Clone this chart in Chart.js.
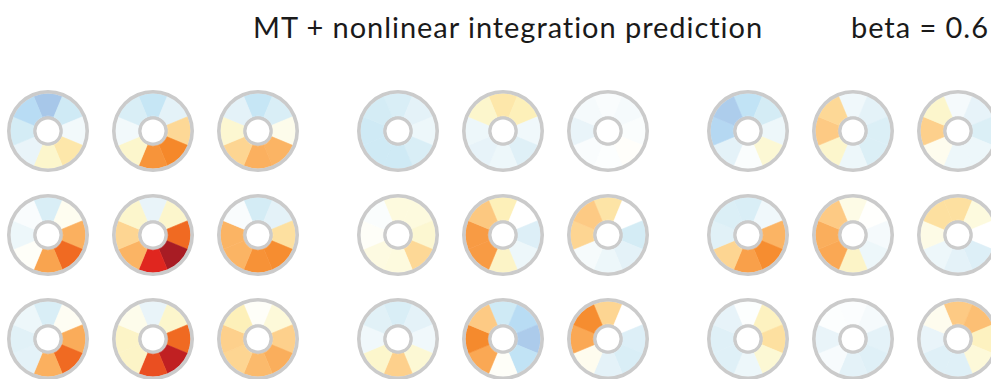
<!DOCTYPE html>
<html>
<head>
<meta charset="utf-8">
<script src="https://cdn.jsdelivr.net/npm/chart.js@4/dist/chart.umd.min.js"></script>
<style>
  html, body { margin: 0; padding: 0; background: #ffffff; }
  #stage { position: relative; width: 991px; height: 379px; overflow: hidden; }
  .ring { position: absolute; }
  .label { position: absolute; font-family: Lato, "Liberation Sans", sans-serif; font-size: 29px; letter-spacing: 0.95px; color: #1a1a1a; white-space: nowrap; line-height: 1; }
</style>
</head>
<body>
<div id="stage">
  <div class="label" id="title" style="left:253px; top:12px;">MT + nonlinear integration prediction</div>
  <div class="label" id="beta" style="left:851px; top:12px;">beta = 0.6</div>
</div>
<script>
// Eight motion directions, clockwise from the top of each ring
const directions = ['N', 'NE', 'E', 'SE', 'S', 'SW', 'W', 'NW'];

// Predicted response per direction (−1 … 1), one row of 8 per ring,
// ordered row by row (top-left to bottom-right) within each panel.
const leftPanel = [
  [-0.95, -0.45, -0.10, 0.35, 0.20, -0.20, -0.40, -0.70],
  [-0.55, -0.25, 0.45, 0.80, 0.75, 0.20, -0.10, -0.35],
  [-0.55, -0.35, 0.08, 0.60, 0.62, 0.47, 0.18, -0.25],
  [-0.35, 0.06, 0.62, 0.88, 0.68, 0.03, -0.15, -0.05],
  [-0.20, 0.20, 0.88, 1.00, 0.93, 0.60, 0.47, 0.20],
  [-0.40, -0.25, 0.40, 0.78, 0.76, 0.60, 0.60, -0.05],
  [-0.35, 0.05, 0.64, 0.88, 0.62, -0.25, -0.28, -0.15],
  [-0.20, 0.20, 0.88, 0.97, 0.90, 0.22, 0.22, 0.08],
  [0.03, 0.15, 0.50, 0.63, 0.58, 0.47, 0.50, 0.28]
];
const middlePanel = [
  [-0.35, -0.25, -0.15, -0.35, -0.45, -0.45, -0.45, -0.40],
  [0.35, 0.28, -0.12, -0.30, -0.15, -0.22, -0.15, 0.20],
  [-0.05, -0.08, -0.04, 0.02, -0.02, -0.05, -0.20, -0.08],
  [0.13, 0.13, 0.18, 0.45, 0.13, 0.12, 0.03, -0.04],
  [0.28, 0.00, -0.32, -0.15, 0.22, 0.72, 0.72, 0.53],
  [0.37, 0.00, -0.40, -0.25, -0.15, -0.07, 0.47, 0.52],
  [-0.35, -0.25, -0.12, 0.17, 0.50, 0.20, -0.12, -0.28],
  [-0.45, -0.70, -0.90, -0.60, 0.03, 0.66, 0.79, 0.52],
  [0.47, 0.00, -0.32, -0.35, -0.25, 0.07, 0.66, 0.78]
];
const rightPanel = [
  [-0.60, -0.40, -0.15, 0.17, -0.04, -0.25, -0.75, -0.88],
  [-0.12, -0.25, -0.33, -0.33, -0.15, 0.20, 0.52, 0.45],
  [-0.08, -0.22, -0.33, -0.15, -0.15, 0.07, 0.50, 0.20],
  [-0.35, -0.12, 0.60, 0.78, 0.70, 0.47, -0.28, -0.33],
  [0.10, 0.01, -0.08, -0.15, 0.22, 0.66, 0.63, 0.52],
  [0.40, 0.13, 0.00, -0.32, -0.25, -0.15, 0.10, 0.40],
  [-0.02, 0.25, 0.40, 0.17, -0.15, -0.30, -0.30, -0.22],
  [-0.03, -0.08, -0.25, -0.30, -0.25, -0.06, -0.20, -0.02],
  [0.52, 0.56, 0.25, 0.15, -0.30, -0.30, -0.20, 0.07]
];

// Diverging colour map: blue (negative) through white to yellow, orange and dark red
const colorStops = [
  [-1.00, [163, 194, 230]],
  [-0.85, [176, 208, 238]],
  [-0.70, [184, 220, 244]],
  [-0.55, [198, 230, 245]],
  [-0.40, [212, 236, 245]],
  [-0.25, [228, 242, 248]],
  [-0.10, [242, 249, 251]],
  [0.00, [255, 255, 255]],
  [0.10, [253, 251, 230]],
  [0.20, [252, 246, 204]],
  [0.30, [253, 238, 180]],
  [0.40, [253, 224, 160]],
  [0.50, [253, 208, 140]],
  [0.60, [251, 180, 100]],
  [0.70, [249, 160, 74]],
  [0.80, [245, 136, 42]],
  [0.88, [240, 106, 34]],
  [0.93, [224, 38, 31]],
  [1.00, [168, 28, 36]]
];

function colorFor(v) {
  if (v <= colorStops[0][0]) return 'rgb(' + colorStops[0][1].join(',') + ')';
  for (let i = 1; i < colorStops.length; i++) {
    const [v1, c1] = colorStops[i];
    const [v0, c0] = colorStops[i - 1];
    if (v <= v1) {
      const t = (v - v0) / (v1 - v0);
      const c = c0.map((a, k) => Math.round(a + (c1[k] - a) * t));
      return 'rgb(' + c.join(',') + ')';
    }
  }
  return 'rgb(' + colorStops[colorStops.length - 1][1].join(',') + ')';
}

// Grid layout
const panels = [leftPanel, middlePanel, rightPanel];
const firstCenterX = 47.5, firstCenterY = 131;
const colStep = 105, rowStep = 104, panelStep = 350;
const ringSize = 82;           // canvas edge = outer diameter
const rimGray = '#cbcbcb';

const stage = document.getElementById('stage');

panels.forEach((panel, p) => {
  panel.forEach((values, idx) => {
    const col = idx % 3, row = Math.floor(idx / 3);
    const cx = firstCenterX + p * panelStep + col * colStep;
    const cy = firstCenterY + row * rowStep;
    const canvas = document.createElement('canvas');
    canvas.className = 'ring';
    canvas.width = ringSize; canvas.height = ringSize;
    canvas.style.width = ringSize + 'px'; canvas.style.height = ringSize + 'px';
    canvas.style.left = (cx - ringSize / 2) + 'px';
    canvas.style.top = (cy - ringSize / 2) + 'px';
    stage.appendChild(canvas);

    const fills = values.map(colorFor);
    new Chart(canvas, {
      type: 'doughnut',
      data: {
        labels: directions,
        datasets: [
          { data: [1], backgroundColor: [rimGray], borderWidth: 0, weight: 3.6 },
          { data: directions.map(() => 1), backgroundColor: fills, borderColor: fills, borderWidth: 0.6, weight: 22.2 },
          { data: [1], backgroundColor: [rimGray], borderWidth: 0, weight: 3.7 }
        ]
      },
      options: {
        responsive: false,
        animation: false,
        devicePixelRatio: 1,
        rotation: -22.5,
        cutout: '28%',
        layout: { padding: 0 },
        plugins: { legend: { display: false }, tooltip: { enabled: false }, title: { display: false } },
        events: []
      }
    });
  });
});
</script>
</body>
</html>
